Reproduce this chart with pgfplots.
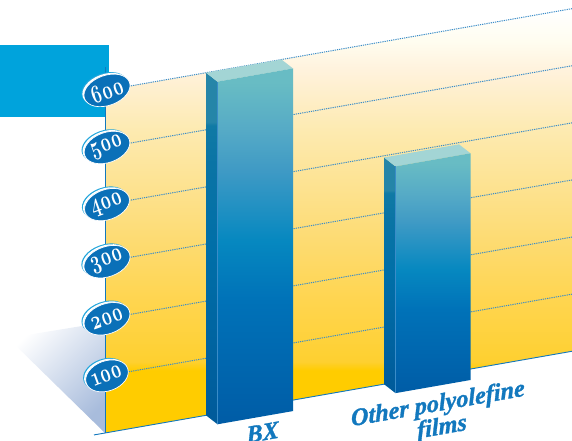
\documentclass[border=0pt]{standalone}
\usepackage{fontspec}
\setmainfont{Liberation Serif}
\newfontfamily\onum[Numbers=OldStyle,FakeStretch=0.68]{Latin Modern Roman}
\newfontfamily\labfont[ItalicFeatures={FakeSlant=0.12},BoldItalicFeatures={FakeSlant=0.12,FakeBold=1.2}]{Liberation Serif}
\usepackage{pgfplots}
\pgfplotsset{compat=1.18}
\usetikzlibrary{shapes.geometric}
\definecolor{rectblue}{HTML}{00A3DC}
\definecolor{axisblue}{HTML}{1278BE}
\definecolor{ovalblue}{HTML}{0A70B8}
\definecolor{ovalcyan}{HTML}{22A6DC}
\definecolor{gridblue}{HTML}{3A8CC8}
\definecolor{topface}{HTML}{A3D5D5}
\definecolor{shadowblue}{HTML}{A8BCDC}
\pgfdeclareverticalshading{wallshade}{100bp}{
 color(0bp)=(rgb,255:red,255;green,204;blue,0);
 color(32.4bp)=(rgb,255:red,255;green,204;blue,0);
 color(33.4bp)=(rgb,255:red,254;green,208;blue,48);
 color(40.6bp)=(rgb,255:red,255;green,213;blue,79);
 color(47.7bp)=(rgb,255:red,253;green,219;blue,114);
 color(60.6bp)=(rgb,255:red,253;green,234;blue,176);
 color(67.7bp)=(rgb,255:red,255;green,242;blue,220);
 color(71.2bp)=(rgb,255:red,255;green,253;blue,240);
 color(74.8bp)=(rgb,255:red,255;green,255;blue,255);
 color(100bp)=(rgb,255:red,255;green,255;blue,255)}
\pgfdeclareverticalshading{barfront}{100bp}{
 color(0bp)=(rgb,255:red,0;green,92;blue,166);
 color(25bp)=(rgb,255:red,0;green,92;blue,166);
 color(42.4bp)=(rgb,255:red,0;green,114;blue,184);
 color(50.8bp)=(rgb,255:red,6;green,136;blue,192);
 color(60.7bp)=(rgb,255:red,63;green,154;blue,197);
 color(66.3bp)=(rgb,255:red,85;green,170;blue,198);
 color(73bp)=(rgb,255:red,104;green,188;blue,196);
 color(100bp)=(rgb,255:red,106;green,190;blue,198)}
\pgfdeclareverticalshading{barside}{100bp}{
 color(0bp)=(rgb,255:red,0;green,90;blue,154);
 color(25bp)=(rgb,255:red,0;green,90;blue,154);
 color(50bp)=(rgb,255:red,0;green,111;blue,168);
 color(62bp)=(rgb,255:red,10;green,116;blue,165);
 color(67.5bp)=(rgb,255:red,16;green,122;blue,165);
 color(68bp)=(rgb,255:red,37;green,133;blue,168);
 color(100bp)=(rgb,255:red,42;green,136;blue,168)}
\pgfplotsset{geom/.style={
  anchor=origin, at={(105pt,8pt)},
  x={(1pt,0.175pt)}, y={(0pt,0.571pt)},
  xmin=0, xmax=467, ymin=0, ymax=600,
  clip=false}}
\begin{document}
\begin{tikzpicture}
\useasboundingbox (0,0) rectangle (572pt,441pt);
\fill[rectblue] (0pt,324pt) rectangle (109pt,396pt);
% backdrop: shadow and upper end of the vertical axis
\begin{axis}[geom, hide axis]
\addplot[draw=none, forget plot, shade, top color=white, bottom color=shadowblue, shading angle=45]
  coordinates {(-97,196) (0,194) (0,0)} -- cycle;
\addplot[axisblue, line width=0.9pt, forget plot] coordinates {(0,600) (0,641)};
\addplot[axisblue, line width=0.9pt, forget plot] coordinates {(-11,0) (0,0)};
\end{axis}
\begin{axis}[geom,
  axis x line=bottom, axis y line=left,
  axis line style={-, axisblue, line width=0.9pt},
  axis background/.style={shade, shading=wallshade},
  ymajorgrids, grid style={gridblue, line width=1pt, dash pattern=on 1.2pt off 1pt},
  major tick length=0pt,
  ytick={100,200,300,400,500,600},
  /pgf/number format/assume math mode=true,
  yticklabel style={
    anchor=center, xshift=2pt, shape=ellipse, inner sep=0pt,
    minimum width=41pt, minimum height=30pt, rotate=20,
    text=white, font=\onum\bfseries\fontsize{26}{26}\selectfont,
    fill=ovalblue, draw=white, line width=0.7pt,
    preaction={fill=ovalcyan, transform canvas={xshift=-2.6pt,yshift=2pt}},
    preaction={fill=white, transform canvas={xshift=-1.6pt,yshift=1.2pt}}
  },
  xtick={157,332},
  xticklabels={BX,{Other polyolefine\\films}},
  xticklabel style={
    anchor=north, rotate=10, align=center, text=axisblue, yshift=-15pt, xshift=-5pt,
    font=\labfont\bfseries\itshape\fontsize{24.5}{18}\selectfont
  },
]
% BX
\addplot[draw=none, forget plot, shade, shading=barside]
  coordinates {(101,0) (101,600) (112.5,580.8) (112.5,-19.2)} -- cycle;
\addplot[draw=none, forget plot, fill=topface]
  coordinates {(101,600) (112.5,580.8) (188,580.8) (176.5,600)} -- cycle;
\addplot[draw=none, forget plot, shade, shading=barfront]
  coordinates {(112.5,-19.2) (112.5,580.8) (188,580.8) (188,-19.2)} -- cycle;
\addplot[forget plot, color=gridblue, line width=0.5pt] coordinates {(112.5,-19.2) (112.5,580.8)};
% Other polyolefine films
\addplot[draw=none, forget plot, shade, shading=barside]
  coordinates {(279,0) (279,397) (290.5,377.8) (290.5,-19.2)} -- cycle;
\addplot[draw=none, forget plot, fill=topface]
  coordinates {(279,397) (290.5,377.8) (365.5,377.8) (354,397)} -- cycle;
\addplot[draw=none, forget plot, shade, shading=barfront]
  coordinates {(290.5,-19.2) (290.5,377.8) (365.5,377.8) (365.5,-19.2)} -- cycle;
\addplot[forget plot, color=gridblue, line width=0.5pt] coordinates {(290.5,-19.2) (290.5,377.8)};
\end{axis}
\end{tikzpicture}
\end{document}
